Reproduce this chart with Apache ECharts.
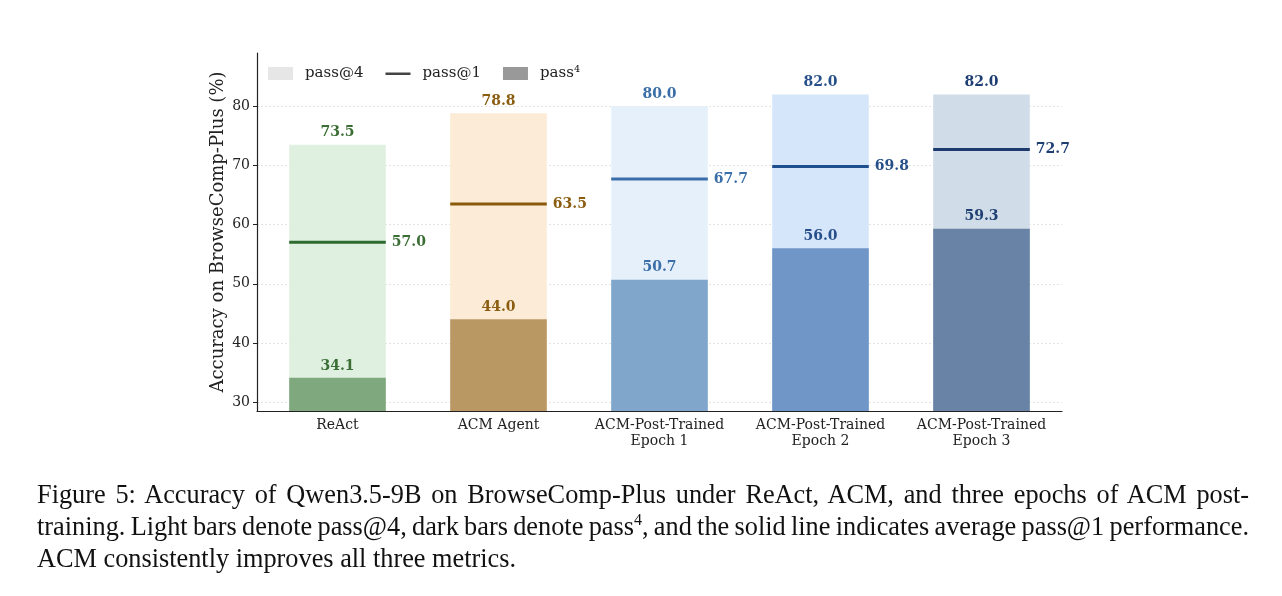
<!DOCTYPE html>
<html>
<head>
<meta charset="utf-8" />
<title></title>
<script src="https://cdn.jsdelivr.net/npm/echarts@6/dist/echarts.min.js"></script>
<style>
	* { margin: 0; padding: 0; }
	body, html { width: 1282px; height: 596px; background: #fff; overflow: hidden; }
	#main { position: absolute; left: 0; top: 0; width: 1282px; height: 596px; }
	#cap {
		position: absolute; left: 37px; top: 479px; width: 1212px;
		font-family: "Liberation Serif", serif; font-size: 26.3px; line-height: 32px; color: #111;
	}
	#cap .j { display: block; text-align: justify; text-align-last: justify; white-space: nowrap; }
	#cap .tight { word-spacing: -1.5px; }
	#cap sup { font-size: 16px; vertical-align: 10px; line-height: 0; }
</style>
</head>
<body>
<div id="main"></div>
<div id="cap">
	<span class="j">Figure 5: Accuracy of Qwen3.5-9B on BrowseComp-Plus under ReAct, ACM, and three epochs of ACM post-</span>
	<span class="j tight">training. Light bars denote pass@4, dark bars denote pass<sup>4</sup>, and the solid line indicates average pass@1 performance.</span>
	<span>ACM consistently improves all three metrics.</span>
</div>
<script>
	// data
	var categories = ['ReAct', 'ACM Agent', 'ACM-Post-Trained\nEpoch 1', 'ACM-Post-Trained\nEpoch 2', 'ACM-Post-Trained\nEpoch 3'];
	var passAt4 = [73.5, 78.8, 80.0, 82.0, 82.0];
	var passAt1 = [57.0, 63.5, 67.7, 69.8, 72.7];
	var passPow4 = [34.1, 44.0, 50.7, 56.0, 59.3];
	var yTicks = [30, 40, 50, 60, 70, 80];

	// colours per method
	var lightColors = ['#e0f0e0', '#fcebd6', '#e6f0fa', '#d6e6fa', '#d0dde8'];
	var darkColors = ['#7fa87f', '#ba9864', '#80a6cc', '#7096c8', '#6883a5'];
	var lineColors = ['#2e6b2e', '#8a5a0a', '#3a6eaa', '#1f4f8f', '#1c3a6e'];
	var textColors = ['#3a6e34', '#8a5d10', '#3a6ea8', '#27508a', '#1f3f72'];

	var serif = '"DejaVu Serif", serif';

	var chart = echarts.init(document.getElementById('main'));
	chart.setOption({
		animation: false,
		textStyle: { fontFamily: serif },
		grid: { left: 257, right: 220, top: 53, bottom: 185 },
		legend: {
			left: 268, top: 66, padding: 0,
			itemWidth: 25, itemHeight: 13, itemGap: 22,
			textStyle: { fontFamily: serif, fontSize: 15, color: '#222', padding: [0, 0, 0, 7] },
			data: [
				{ name: 'pass@4', icon: 'rect' },
				{ name: 'pass@1', icon: 'path://M0,0 M0,5.5 L25,5.5 L25,8 L0,8 Z M25,13' },
				{ name: 'pass⁴', icon: 'rect' }
			]
		},
		xAxis: {
			type: 'category',
			data: categories,
			axisLine: { lineStyle: { color: '#222', width: 1.2 } },
			axisTick: { alignWithLabel: true, length: 4, lineStyle: { color: '#222' } },
			axisLabel: { interval: 0, fontFamily: serif, fontSize: 14, color: '#222', lineHeight: 16, margin: 6 }
		},
		yAxis: {
			type: 'value',
			min: 28.5,
			max: 89,
			name: 'Accuracy on BrowseComp-Plus (%)',
			nameLocation: 'middle',
			nameGap: 30,
			nameMoveOverlap: false,
			nameTextStyle: { fontFamily: serif, fontSize: 18, color: '#222' },
			axisLine: { show: true, lineStyle: { color: '#222', width: 1.2 } },
			axisTick: { show: true, length: 4, customValues: yTicks, lineStyle: { color: '#222' } },
			axisLabel: { fontFamily: serif, fontSize: 14, color: '#222', margin: 7, customValues: yTicks },
			splitLine: { show: true, lineStyle: { color: '#e4e4e4', type: [2, 2], width: 1 } }
		},
		series: [
			{
				name: 'pass@4',
				type: 'bar',
				barWidth: '60%',
				barGap: '-100%',
				itemStyle: { color: '#e6e6e6' },
				data: passAt4.map(function (v, i) {
					return {
						value: v,
						itemStyle: { color: lightColors[i] },
						label: { color: textColors[i] }
					};
				}),
				label: {
					show: true, position: 'top', distance: 5,
					fontFamily: serif, fontSize: 14, fontWeight: 'bold',
					formatter: function (p) { return p.value.toFixed(1); }
				},
				z: 1
			},
			{
				name: 'pass⁴',
				type: 'bar',
				barWidth: '60%',
				barGap: '-100%',
				itemStyle: { color: '#999999' },
				data: passPow4.map(function (v, i) {
					return {
						value: v,
						itemStyle: { color: darkColors[i] },
						label: { color: textColors[i] }
					};
				}),
				label: {
					show: true, position: 'top', distance: 5,
					fontFamily: serif, fontSize: 14, fontWeight: 'bold',
					formatter: function (p) { return p.value.toFixed(1); }
				},
				z: 2
			},
			{
				name: 'pass@1',
				type: 'custom',
				itemStyle: { color: '#444' },
				data: passAt1.map(function (v, i) { return [i, v]; }),
				renderItem: function (params, api) {
					var i = params.dataIndex;
					var pt = api.coord([api.value(0), api.value(1)]);
					var w = api.size([1, 0])[0] * 0.6;
					return {
						type: 'group',
						children: [
							{
								type: 'line',
								shape: { x1: pt[0] - w / 2, y1: pt[1], x2: pt[0] + w / 2, y2: pt[1] },
								style: { stroke: lineColors[i], lineWidth: 3 }
							},
							{
								type: 'text',
								style: {
									x: pt[0] + w / 2 + 6, y: pt[1],
									text: api.value(1).toFixed(1),
									fill: textColors[i],
									font: 'bold 14px ' + serif,
									verticalAlign: 'middle'
								}
							}
						]
					};
				},
				z: 3
			}
		]
	});
</script>
</body>
</html>
